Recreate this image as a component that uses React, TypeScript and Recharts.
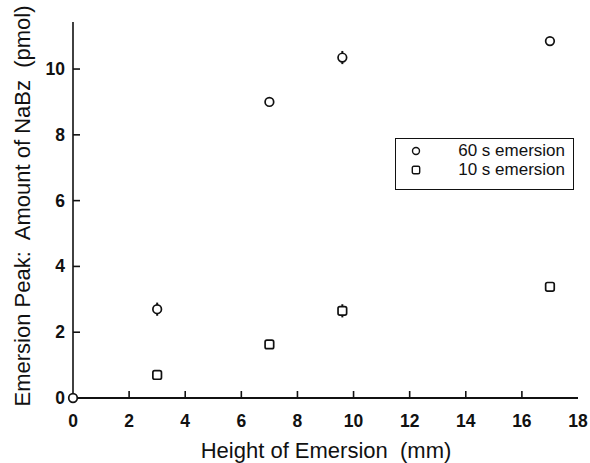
import React from 'react';
import { ScatterChart, Scatter, XAxis, YAxis, ErrorBar } from 'recharts';

const heights60 = [0, 3, 7, 9.6, 17];
const amounts60 = [0, 2.7, 9.0, 10.35, 10.85];
const errors60 = [0, 0.2, 0, 0.2, 0];

const heights10 = [3, 7, 9.6, 17];
const amounts10 = [0.7, 1.63, 2.65, 3.38];
const errors10 = [0, 0, 0.2, 0];

const xTicks = [0, 2, 4, 6, 8, 10, 12, 14, 16, 18];
const yTicks = [0, 2, 4, 6, 8, 10];
const seriesNames = ['60 s emersion', '10 s emersion'];
const xTitle = 'Height of Emersion  (mm)';
const yTitle = 'Emersion Peak:  Amount of NaBz  (pmol)';

const data60 = heights60.map((h, i) => ({ x: h, y: amounts60[i], err: errors60[i] }));
const data10 = heights10.map((h, i) => ({ x: h, y: amounts10[i], err: errors10[i] }));

const FONT = '"Liberation Sans", Arial, sans-serif';
const INK = '#111';
const X_MARGIN = 22;
const Y_MARGIN = 8;
const TICK_LEN = 7;

const CircleShape = (props: any) => (
  <circle cx={props.cx} cy={props.cy} r={4.3} fill="#fff" stroke={INK} strokeWidth={1.7} />
);
const SquareShape = (props: any) => (
  <rect x={props.cx - 4.3} y={props.cy - 4.3} width={8.6} height={8.6} rx={1.8} fill="#fff" stroke={INK} strokeWidth={1.7} />
);

const XTick = (props: any) => {
  const { x, y, payload } = props;
  const axisY = y - X_MARGIN;
  return (
    <g>
      {payload.value !== 0 && payload.value !== 18 && (
        <line x1={x} x2={x} y1={axisY} y2={axisY - TICK_LEN} stroke={INK} strokeWidth={1.6} />
      )}
      <text x={x} y={y + 7} textAnchor="middle" fontFamily={FONT} fontSize={17.5} fontWeight="bold" fill={INK}>
        {payload.value}
      </text>
    </g>
  );
};

const YTick = (props: any) => {
  const { x, y, payload } = props;
  const axisX = x + Y_MARGIN;
  return (
    <g>
      {payload.value !== 0 && (
        <line x1={axisX} x2={axisX + TICK_LEN} y1={y} y2={y} stroke={INK} strokeWidth={1.6} />
      )}
      <text x={x} y={y + 6} textAnchor="end" fontFamily={FONT} fontSize={17.5} fontWeight="bold" fill={INK}>
        {payload.value}
      </text>
    </g>
  );
};

const YLabel = () => (
  <text
    x={0}
    y={0}
    transform="translate(30,206) rotate(-90)"
    textAnchor="middle"
    fontFamily={FONT}
    fontSize={22}
    fill={INK}
    style={{ whiteSpace: 'pre' }}
  >
    {yTitle}
  </text>
);

const XLabel = () => (
  <text
    x={326}
    y={458}
    textAnchor="middle"
    fontFamily={FONT}
    fontSize={22}
    fill={INK}
    style={{ whiteSpace: 'pre' }}
  >
    {xTitle}
  </text>
);

export default function App() {
  return (
    <div style={{ position: 'absolute', left: 0, top: 0, width: 590, height: 463, background: '#fff' }}>
      <ScatterChart width={590} height={463} margin={{ top: 22, right: 12, bottom: 0, left: 0 }}>
        <XAxis
          type="number"
          dataKey="x"
          domain={[0, 18]}
          ticks={xTicks}
          height={65}
          tickSize={0}
          tickMargin={X_MARGIN}
          axisLine={{ stroke: INK, strokeWidth: 1.9 }}
          tickLine={false}
          tick={<XTick />}
          interval={0}
          label={<XLabel />}
        />
        <XAxis
          xAxisId="top"
          orientation="top"
          type="number"
          dataKey="x"
          domain={[0, 18]}
          height={0}
          tick={false}
          tickLine={false}
          axisLine={{ stroke: INK, strokeWidth: 1.5 }}
        />
        <YAxis
          type="number"
          dataKey="y"
          domain={[0, 11.43]}
          ticks={yTicks}
          width={73}
          tickSize={0}
          tickMargin={Y_MARGIN}
          axisLine={{ stroke: INK, strokeWidth: 1.6 }}
          tickLine={false}
          tick={<YTick />}
          interval={0}
          label={<YLabel />}
        />
        <YAxis
          yAxisId="right"
          orientation="right"
          type="number"
          dataKey="y"
          domain={[0, 11.43]}
          width={0}
          tick={false}
          tickLine={false}
          axisLine={{ stroke: INK, strokeWidth: 1.5 }}
        />
        <Scatter name={seriesNames[0]} data={data60} shape={CircleShape} isAnimationActive={false}>
          <ErrorBar dataKey="err" direction="y" width={0} stroke={INK} strokeWidth={2} />
        </Scatter>
        <Scatter name={seriesNames[1]} data={data10} shape={SquareShape} isAnimationActive={false}>
          <ErrorBar dataKey="err" direction="y" width={0} stroke={INK} strokeWidth={2} />
        </Scatter>
      </ScatterChart>
      <div
        style={{
          position: 'absolute',
          left: 395,
          top: 138,
          width: 179,
          height: 52,
          boxSizing: 'border-box',
          border: `1.5px solid ${INK}`,
          background: '#fff',
          fontFamily: FONT,
          fontSize: 17,
          color: INK,
        }}
      >
        {seriesNames.map((name, i) => (
          <div key={name} style={{ position: 'absolute', left: 0, right: 8, top: 12 + i * 19 - 10, height: 19, display: 'flex', alignItems: 'center' }}>
            <svg width={12} height={12} style={{ position: 'absolute', left: 14 }}>
              {i === 0 ? (
                <circle cx={6} cy={6} r={3.5} fill="#fff" stroke={INK} strokeWidth={1.4} />
              ) : (
                <rect x={2.3} y={2.3} width={7.4} height={7.4} rx={1.5} fill="#fff" stroke={INK} strokeWidth={1.4} />
              )}
            </svg>
            <span style={{ marginLeft: 'auto', whiteSpace: 'nowrap' }}>{name}</span>
          </div>
        ))}
      </div>
    </div>
  );
}
